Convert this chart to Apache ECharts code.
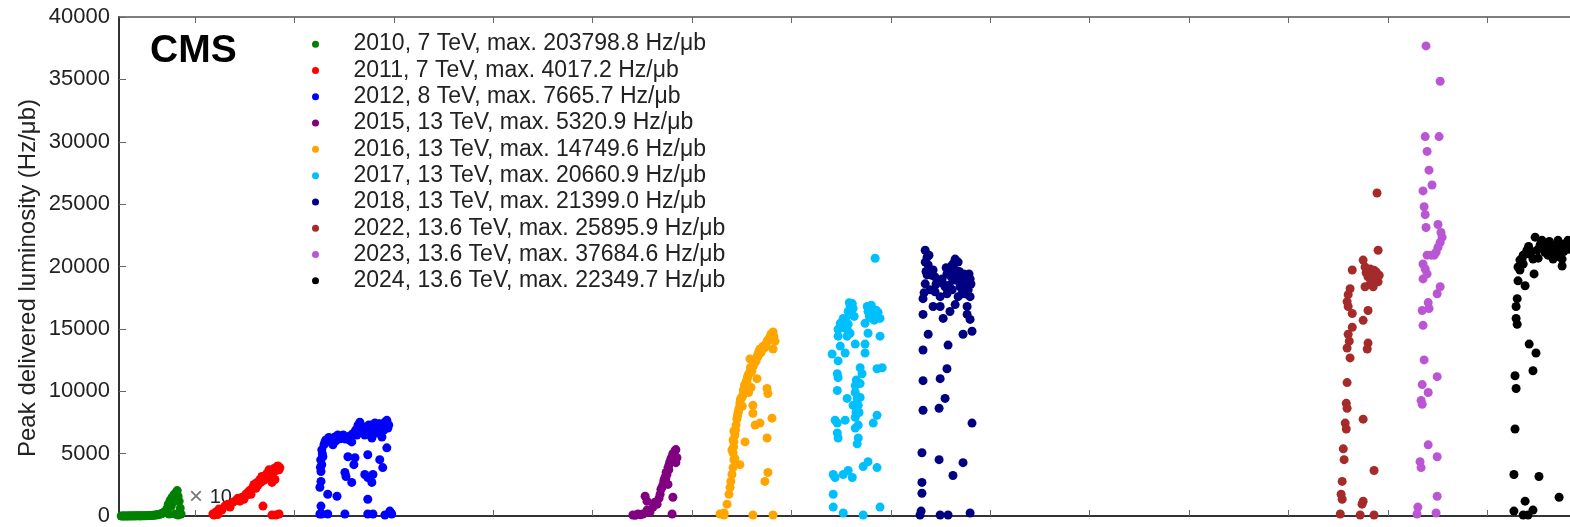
<!DOCTYPE html>
<html>
<head>
<meta charset="utf-8">
<title>CMS peak delivered luminosity</title>
<script src="https://cdn.jsdelivr.net/npm/echarts@6/dist/echarts.min.js"></script>
<style>
  html, body { margin: 0; padding: 0; background: #fff; }
  #chart { width: 1570px; height: 527px; }
</style>
</head>
<body>
<div id="chart"></div>
<script>
// each point: [day of year (0 = 1 Jan), peak lumi in Hz/ub]
const run2010 = [
  [94, 0], [99, 5], [104, 0], [108, 10], [113, 5], [118, 10], [122, 0], [127, 15], [132, 10],
  [137, 5], [141, 15], [146, 10], [151, 20], [156, 15], [160, 20], [165, 10], [170, 25], [175, 20],
  [180, 25], [185, 30], [190, 25], [195, 35], [200, 40], [205, 45], [210, 55], [215, 60], [220, 80],
  [225, 95], [230, 110], [236, 140], [241, 180], [246, 220], [251, 300], [256, 396], [263, 634],
  [267, 950], [270, 158], [274, 1267], [278, 792], [281, 1505], [285, 1109], [289, 1742], [292, 1346],
  [296, 1901], [300, 2038], [303, 1584], [307, 1188], [311, 634], [314, 158], [292, 158], [303, 79]
];
const run2011 = [
  [66, 158], [77, 317], [88, 554], [99, 475], [110, 792], [121, 950], [129, 713], [140, 1109],
  [151, 1267], [158, 1426], [165, 1188], [173, 1505], [180, 1346], [187, 1742], [195, 1901],
  [202, 2059], [206, 1742], [213, 2297], [217, 2534], [224, 2218], [228, 2693], [231, 2455],
  [239, 2930], [242, 2693], [246, 3168], [250, 792], [253, 2851], [257, 3010], [265, 3406],
  [268, 3168], [276, 3564], [279, 3326], [283, 2693], [290, 3802], [294, 2930], [298, 3643],
  [301, 3960], [305, 4017], [312, 3881], [283, 79], [298, 79], [309, 158], [70, 79], [84, 120],
  [226, 2400], [235, 2700], [248, 3000], [261, 3300], [272, 3700], [286, 3400], [296, 3800],
  [309, 3700], [160, 1300], [192, 1700]
];
const run2012 = [
  [101, 5306], [101, 4118], [98, 3564], [98, 2772], [94, 2297], [98, 792], [94, 158], [105, 4752],
  [109, 5702], [116, 6098], [123, 1742], [157, 1584], [131, 5940], [138, 5940], [142, 5702],
  [149, 6336], [153, 6019], [160, 6494], [167, 6257], [175, 6336], [186, 6178], [197, 6257],
  [204, 6415], [211, 5940], [223, 6732], [230, 6494], [234, 7286], [241, 6811], [241, 7524],
  [248, 7049], [259, 6494], [263, 7128], [270, 7049], [278, 6653], [285, 7286], [292, 6890],
  [296, 7445], [303, 6653], [307, 7049], [314, 7366], [322, 7128], [329, 6890], [333, 7524],
  [340, 7666], [344, 7049], [285, 6257], [322, 6336], [197, 4752], [223, 4673], [219, 4118],
  [270, 4910], [340, 5465], [314, 4514], [325, 3881], [186, 3485], [190, 3168], [259, 3326],
  [289, 3326], [270, 3089], [285, 2693], [211, 2693], [270, 1346], [101, 158], [123, 158],
  [186, 158], [270, 158], [289, 158], [333, 79], [351, 396], [358, 158],
  [97, 4500], [103, 5000], [96, 3900], [112, 5900], [127, 6300], [146, 6100], [164, 6400],
  [171, 6200], [180, 6500], [193, 6300], [200, 6100], [215, 6600], [226, 6900], [237, 7100],
  [252, 6900], [266, 6800], [274, 7300], [281, 6900], [300, 7100], [310, 7400], [318, 6900],
  [336, 7200], [347, 7300]
];
const run2015 = [
  [148, 79], [167, 158], [185, 158], [193, 1584], [200, 1188], [200, 475], [211, 317], [222, 713],
  [229, 1109], [237, 950], [244, 1426], [248, 1742], [251, 2138], [259, 2534], [262, 2851],
  [266, 3089], [273, 3326], [277, 3881], [281, 4118], [284, 4356], [288, 4594], [292, 4752],
  [295, 4990], [303, 5227], [306, 5321], [310, 4673], [306, 4277], [295, 1505], [292, 158],
  [277, 2534], [270, 3485], [157, 60], [176, 100], [255, 2300], [269, 3000], [280, 3700]
];
const run2016 = [
  [103, 158], [118, 238], [129, 950], [136, 1742], [140, 2297], [143, 2772], [147, 3326],
  [151, 3881], [154, 4514], [151, 5069], [153, 5544], [154, 5940], [158, 6494], [154, 6811],
  [162, 7286], [165, 7762], [169, 8237], [173, 8633], [176, 9029], [180, 9425], [187, 9662],
  [191, 9979], [195, 10296], [198, 10613], [202, 10930], [206, 11246], [213, 11484], [217, 11722],
  [224, 11959], [228, 12197], [232, 12434], [239, 12672], [243, 12830], [250, 13068], [257, 13306],
  [265, 13543], [272, 13781], [279, 14098], [287, 14335], [290, 14573], [298, 14750], [305, 14018],
  [298, 13385], [250, 13385], [213, 12593], [239, 11009], [202, 10692], [224, 8870], [276, 10217],
  [279, 9821], [294, 7841], [276, 6257], [250, 7445], [232, 7286], [224, 8237], [195, 5940],
  [176, 4118], [279, 3485], [268, 2772], [118, 79], [224, 79], [298, 79],
  [160, 6900], [167, 8000], [171, 8400], [178, 9300], [184, 9500], [189, 10100], [193, 10500],
  [200, 10800], [204, 11100], [209, 11400], [215, 11900], [220, 11600], [226, 12100], [230, 12500],
  [235, 12400], [241, 12900], [246, 13200], [254, 13100], [261, 13600], [268, 13500], [276, 14000],
  [283, 14200], [294, 14500], [301, 14400], [151, 6100], [147, 5300], [158, 4600], [185, 8800],
  [208, 9900], [217, 10300]
];
const run2017 = [
  [307, 20661], [223, 17028], [208, 16394], [215, 16790], [278, 16790], [281, 16394], [325, 15840],
  [296, 15840], [307, 16157], [270, 15444], [179, 15444], [171, 14969], [208, 15365], [215, 14652],
  [171, 14414], [204, 14414], [281, 14652], [325, 14414], [179, 13622], [234, 13781], [270, 13781],
  [270, 13068], [149, 12989], [171, 12434], [197, 13068], [252, 11880], [259, 11405], [314, 11801],
  [333, 11880], [168, 11405], [171, 11088], [168, 10058], [204, 9425], [234, 10454], [234, 9900],
  [241, 9425], [226, 8870], [237, 8316], [252, 10613], [252, 9504], [245, 8870], [160, 7682],
  [168, 7445], [197, 7682], [234, 7920], [245, 7286], [234, 7049], [314, 8078], [300, 7445],
  [168, 6653], [171, 6257], [245, 6257], [241, 5782], [281, 4356], [263, 3960], [314, 3881],
  [153, 3326], [160, 3089], [208, 3643], [190, 3326], [223, 3089], [153, 1742], [153, 713],
  [190, 238], [263, 79], [325, 713], [215, 16157], [226, 16632], [289, 16632], [300, 16315],
  [318, 16315], [190, 15840], [201, 15602], [212, 17100], [219, 16400], [230, 16000], [286, 16000],
  [293, 16900], [304, 15700], [311, 16500], [205, 14900], [186, 15100], [238, 10900], [248, 8300]
];
const run2018 = [
  [126, 21305], [133, 20750], [126, 20354], [144, 19721], [133, 19325], [155, 19721], [162, 19166],
  [126, 18612], [144, 18137], [118, 17424], [155, 16790], [181, 16790], [192, 18612], [206, 19404],
  [217, 19721], [236, 19721], [247, 20354], [243, 19166], [228, 18929], [206, 17820], [225, 18137],
  [247, 17582], [236, 16949], [217, 16394], [192, 15840], [265, 18612], [280, 19166], [291, 19008],
  [284, 18137], [291, 17582], [280, 16790], [280, 16157], [291, 15761], [118, 16157], [137, 14573],
  [265, 14573], [298, 14810], [210, 13702], [118, 13306], [206, 11801], [181, 11009], [118, 10850],
  [199, 9425], [177, 8633], [118, 8474], [298, 7445], [114, 5069], [177, 4514], [265, 4277],
  [228, 3247], [114, 2693], [114, 1822], [111, 396], [181, 79], [210, 79], [291, 238], [107, 79],
  [173, 18770], [199, 18374], [254, 18374], [261, 17820], [272, 18137], [162, 17978], [181, 17582],
  [137, 20117], [225, 20117], [236, 20592], [140, 20900], [150, 19300], [166, 18600], [188, 19000],
  [203, 19900], [214, 18500], [221, 19200], [232, 20300], [240, 18900], [251, 19600], [258, 18900],
  [268, 19400], [277, 17800], [287, 19400], [294, 18600], [129, 19600], [122, 17900]
];
const run2022 = [
  [325, 25896], [329, 21305], [274, 20513], [234, 19721], [281, 19958], [292, 19166], [307, 19404],
  [318, 18929], [329, 18770], [300, 18612], [281, 18374], [311, 18374], [322, 19562], [300, 19800],
  [226, 18216], [219, 17741], [215, 17186], [219, 16790], [234, 16236], [292, 16474], [274, 15682],
  [234, 15127], [219, 14573], [223, 14018], [215, 13464], [226, 12672], [292, 13860], [289, 13385],
  [215, 10692], [212, 9029], [215, 8633], [208, 7445], [212, 6970], [274, 7762], [201, 5386],
  [204, 4514], [314, 3643], [197, 2772], [193, 1742], [197, 1346], [274, 1188], [270, 950],
  [190, 158], [263, 79], [314, 79], [296, 19300], [303, 18900], [314, 19700], [325, 19100],
  [333, 19300], [285, 19500]
];
const run2023 = [
  [140, 37685], [192, 34848], [137, 30413], [188, 30413], [144, 29225], [151, 27720], [129, 26057],
  [162, 26532], [133, 24790], [137, 24156], [140, 23126], [184, 23364], [195, 22730], [199, 22334],
  [192, 21938], [184, 21542], [177, 21146], [170, 20909], [159, 20909], [144, 20909], [129, 20196],
  [137, 19800], [144, 19404], [129, 19008], [192, 18374], [181, 17820], [148, 17107], [151, 16632],
  [126, 16474], [129, 15286], [133, 12514], [181, 11167], [126, 10534], [148, 9900], [122, 9266],
  [126, 8950], [148, 5702], [181, 4752], [118, 4356], [122, 3881], [181, 1584], [110, 713],
  [177, 238], [107, 158]
];
const run2024 = [
  [176, 22350], [201, 22097], [260, 22097], [286, 21701], [146, 21305], [132, 20909], [120, 20513],
  [113, 19958], [183, 21305], [205, 21542], [223, 20909], [242, 20592], [256, 20988], [275, 20592],
  [275, 20038], [157, 20988], [168, 20592], [132, 20196], [120, 19721], [172, 19404], [113, 18850],
  [139, 18454], [110, 17424], [106, 16790], [106, 15840], [110, 15365], [154, 13781], [179, 13068],
  [168, 11642], [102, 11246], [106, 10217], [102, 6970], [98, 3326], [190, 3168], [264, 1505],
  [139, 1188], [98, 396], [168, 475], [132, 79], [150, 79], [194, 21701], [216, 21859], [234, 21542],
  [249, 21701], [267, 21384], [293, 21938], [300, 21384], [187, 20671], [212, 21146],
  [128, 20600], [140, 21000], [152, 21600], [162, 21200], [198, 21900], [228, 22000], [238, 21200],
  [246, 21300], [253, 20800], [262, 21500], [271, 21800], [281, 21200], [289, 21500], [297, 22100],
  [303, 21800]
];

const runYears = [2010, 2011, 2012, 2015, 2016, 2017, 2018, 2022, 2023, 2024];
const runLabels = [
  "2010, 7 TeV, max. 203798.8 Hz/μb",
  "2011, 7 TeV, max. 4017.2 Hz/μb",
  "2012, 8 TeV, max. 7665.7 Hz/μb",
  "2015, 13 TeV, max. 5320.9 Hz/μb",
  "2016, 13 TeV, max. 14749.6 Hz/μb",
  "2017, 13 TeV, max. 20660.9 Hz/μb",
  "2018, 13 TeV, max. 21399.0 Hz/μb",
  "2022, 13.6 TeV, max. 25895.9 Hz/μb",
  "2023, 13.6 TeV, max. 37684.6 Hz/μb",
  "2024, 13.6 TeV, max. 22349.7 Hz/μb"
];
const runColors = ["#008000", "#ff0000", "#0000ff", "#800080", "#ffa500",
  "#00bfff", "#000080", "#a52a2a", "#ba55d3", "#000000"];
// x ticks sit on 1 January of these years
const tickYears = [2011, 2012, 2013, 2014, 2015, 2016, 2017, 2018, 2019, 2020, 2021, 2022, 2023, 2024];

const DAY = 86400000;
const runData = [run2010, run2011, run2012, run2015, run2016, run2017, run2018, run2022, run2023, run2024];
const xMin = Date.UTC(2010, 2, 28);
const xMax = Date.UTC(2024, 9, 31);
const tickValues = tickYears.map(y => Date.UTC(y, 0, 1));
const font = "Liberation Sans, Arial, Helvetica, sans-serif";

const chart = echarts.init(document.getElementById("chart"));

const seriesList = runYears.map((yr, i) => ({
  name: runLabels[i],
  type: "scatter",
  xAxisIndex: 0,
  symbol: "circle",
  symbolSize: 9,
  itemStyle: { color: runColors[i], opacity: 1 },
  emphasis: { disabled: true },
  data: runData[i].map(p => [Date.UTC(yr, 0, 1) + p[0] * DAY, p[1]])
}));

const xAxisBase = {
  type: "value",
  min: xMin,
  max: xMax,
  splitLine: { show: false },
  axisLabel: { show: false },
  axisTick: {
    show: true,
    inside: true,
    length: 6,
    customValues: tickValues,
    lineStyle: { color: "#666", width: 1 }
  }
};

chart.setOption({
  animation: false,
  backgroundColor: "#fff",
  grid: { left: 119, right: 0, top: 17, bottom: 5 },
  xAxis: [
    Object.assign({}, xAxisBase, {
      position: "bottom",
      axisLine: { show: true, onZero: false, lineStyle: { color: "#333", width: 2 } }
    }),
    Object.assign({}, xAxisBase, {
      position: "top",
      axisLine: { show: true, onZero: false, lineStyle: { color: "#555", width: 1.5 } }
    })
  ],
  yAxis: {
    type: "value",
    min: 0,
    max: 40000,
    interval: 5000,
    splitLine: { show: false },
    axisLine: { show: true, lineStyle: { color: "#333", width: 2 } },
    axisTick: { show: true, inside: true, length: 7, lineStyle: { color: "#666", width: 1 } },
    axisLabel: {
      fontSize: 22, color: "#222", fontFamily: font, margin: 9,
      formatter: v => String(v)
    }
  },
  legend: {
    orient: "vertical",
    left: 312,
    top: 31,
    padding: 0,
    itemGap: 0,
    itemWidth: 66,
    itemHeight: 7,
    icon: "circle",
    data: runLabels,
    textStyle: { fontSize: 23, lineHeight: 26.3, color: "#222", fontFamily: font }
  },
  graphic: [
    {
      type: "text",
      rotation: Math.PI / 2,
      x: 28,
      y: 278,
      style: {
        text: "Peak delivered luminosity (Hz/μb)",
        font: "24px " + font,
        fill: "#222",
        align: "center",
        verticalAlign: "middle"
      }
    },
    {
      type: "text",
      left: 150,
      top: 32,
      style: { text: "CMS", font: "bold 39px " + font, fill: "#000" }
    },
    {
      type: "text",
      x: 189,
      y: 497,
      style: {
        text: "{g|×}  {d|10}",
        verticalAlign: "middle",
        rich: {
          g: { fontSize: 24, fill: "#777", fontFamily: font },
          d: { fontSize: 20, fill: "#222", fontFamily: font }
        }
      }
    },
    {
      // hide the halves of zero-valued dots under the x axis
      type: "rect",
      z: 100,
      shape: { x: 0, y: 523, width: 1570, height: 6 },
      style: { fill: "#fff" }
    }
  ],
  series: seriesList
});
</script>
</body>
</html>
